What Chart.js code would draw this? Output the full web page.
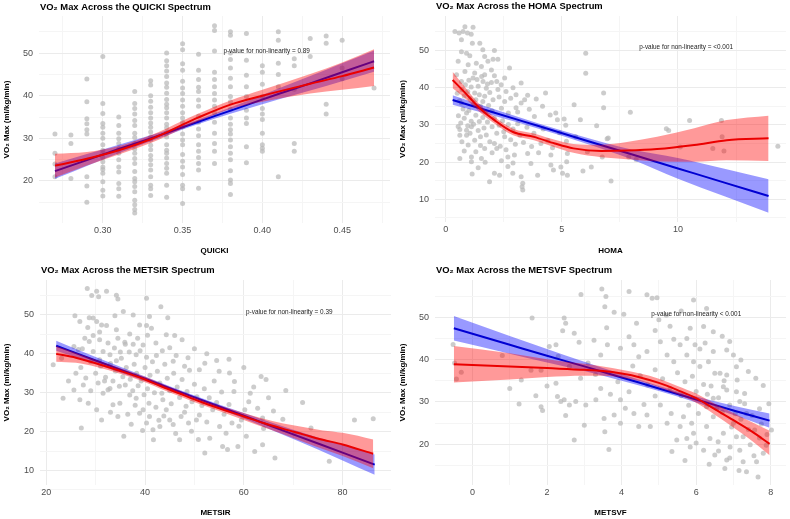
<!DOCTYPE html>
<html><head><meta charset="utf-8">
<script src="https://cdn.jsdelivr.net/npm/chart.js@4/dist/chart.umd.min.js"></script>
<style>
html,body{margin:0;padding:0;background:#fff;}
#wrap{position:relative;width:790px;height:519px;overflow:hidden;}
.p{position:absolute;}
canvas{display:block;}
</style></head><body>
<div id="wrap">
<div class="p" style="left:0;top:0"><canvas id="c1" width="395" height="260"></canvas></div>
<div class="p" style="left:395px;top:0"><canvas id="c2" width="395" height="260"></canvas></div>
<div class="p" style="left:0;top:260px"><canvas id="c3" width="395" height="259"></canvas></div>
<div class="p" style="left:395px;top:260px"><canvas id="c4" width="395" height="259"></canvas></div>
</div>
<script>
// ---------------- DATA ----------------
const yAxisTitle = 'VO\u2082 Max (ml/kg/min)';

// Panel 1: QUICKI (values appear in columns)
const quickiCols = [0.27,0.28,0.29,0.30,0.31,0.32,0.33,0.34,0.35,0.36,0.37,0.38,0.39,0.40,0.41,0.42,0.43,0.44,0.45,0.47];
const quickiColY = [
 [31,26.5,24,21],
 [30.8,28.8,20.6],
 [43.9,38.6,34.6,33.4,32,31,21,18.8,15],
 [49.2,38.2,35.8,33.5,32.6,31.2,30,28.5,27.2,26.5,25.5,24.5,23.3,22.7,21.8,19.8,17.8,16.5],
 [35,33,31.2,29.9,28.8,27.5,26.5,25,23.3,22.1,19.4,18.2,16.4],
 [41,38.2,37,35.7,34.2,33,31.2,30.2,28.8,27.5,26.5,25.3,24.1,22.2,20.6,19.8,18.7,17.5,15.5,14.4,13.3,12.5],
 [43.5,42.5,40,38.7,37.3,36,34.8,33.6,32.6,31.5,30.4,29.6,28.4,27.3,26,25,23.8,22.6,21,19,18.2,16.6],
 [50,48.2,47,45.8,44.5,43,42,40.6,39.1,38,37.2,36,34.8,33.3,32.5,31.3,30.3,28.5,27.2,26.5,25.4,24.1,23,21.8,19,16.2],
 [52.2,50.8,47.5,46,43.4,41.8,40.5,39,37.5,36,34.8,33.7,32.7,31,29.6,28.5,26.2,24.6,23.3,21.5,19,18.2,14.7],
 [49.7,46,43.8,42,41,39,37.5,35.2,33.8,32.2,30.6,28.5,27,25.5,24.1,22.6,18.3],
 [56.4,55.3,50.5,45.5,43.8,42.1,40.5,39,37.5,36,33.8,31.2,28.8,27,24.1],
 [55,54.2,50,48.5,46.5,44.1,42.1,39.8,38.6,36.8,34.8,33.3,32,31,29.6,28,26.5,25,22.4,20.2,19.4,16.8],
 [54.6,48.3,44.8,42.1,39.8,36.6,34.8,33.5,28,24.3],
 [47,45.5,42.7,39.8,37,35.7,34.4,31.2,28.5,27.7,27],
 [55,53,47.6,45,42.1,21],
 [48.7,47,41.5,28.8,27],
 [53.4,49.2],
 [54,52.3,38,35.7],
 [53,46.5,44],
 [41.8]
];
const quickiLinX = [0.27,0.29,0.31,0.33,0.35,0.37,0.39,0.41,0.43,0.45,0.47];
const quickiLin  = [22.3,24.9,27.5,30.0,32.6,35.2,37.8,40.4,42.9,45.5,48.1];
const quickiLinLo= [20.5,23.5,26.5,29.3,32.1,34.6,36.9,39.1,41.2,43.4,45.6];
const quickiLinHi= [24.1,26.3,28.5,30.7,33.1,35.8,38.7,41.7,44.6,47.6,50.6];
const quickiSplX = [0.27,0.29,0.31,0.33,0.34,0.35,0.36,0.38,0.40,0.43,0.45,0.47];
const quickiSpl  = [23.6,25.2,27.2,29.8,31.4,33.2,34.9,37.9,40.0,42.8,44.6,46.6];
const quickiSplLo= [20.8,23.6,26.2,28.9,30.5,32.3,34.0,36.9,38.6,40.5,41.4,42.3];
const quickiSplHi= [26.4,26.8,28.2,30.7,32.3,34.1,35.8,38.9,41.4,45.1,47.8,50.9];

// Panel 2: HOMA
const homaPts = [
 [0.4,55.1],[0.58,54.7],[0.75,55.1],[0.83,56.4],[0.68,52.9],[1.1,54.4],[1.18,56.3],[0.94,54.7],[1.15,52],[1.47,52],
 [1.6,50.2],[0.68,49.7],[0.9,49.3],[1.04,48.6],[1.68,48.4],[2.1,50],[2.25,47.7],[2.04,47.7],[1.82,47.1],[1.32,46.6],
 [0.54,47.1],[0.97,46.2],[1.54,45.7],[2.75,45.3],[1.97,44.8],[0.83,44.4],[1.25,44],[1.68,43.5],[2.1,43.2],[0.47,43.5],
 [1.18,42.6],[1.61,41.7],[1.97,41.4],[2.54,42.6],[2.39,40.8],[3.25,41.3],[0.68,41.7],[1.4,40.4],[1.75,39.9],[2.25,39.5],
 [3.03,38.1],[3.53,38],[1.25,38.6],[1.68,37.7],[2.04,36.8],[2.54,36.3],[3.25,35.9],[3.03,34.6],[4.17,35],[4.74,33.2],
 [5.53,35.4],[6.8,38.6],[6.8,34.6],[6.03,49.3],[6.03,43.9],[5.1,31.6],[5.8,31.4],[7.95,33.4],[10.5,31.2],[11.87,31.2],
 [4.81,31.4],[3.82,32.3],[0.68,35.9],[0.9,33.2],[1.1,31],[0.54,29.6],
 [0.5,38.5],[0.6,36.5],[0.7,39.5],[0.8,37.8],[0.85,40.8],[0.95,39],[1.0,42],[1.05,37.2],[1.1,40.2],[1.2,35.5],
 [1.3,36.8],[1.35,42.2],[1.45,38.1],[1.5,35],[1.55,43],[1.6,36.3],[1.7,33.5],[1.8,41],[1.85,35.2],[1.9,38.7],
 [2.0,33.8],[2.2,41.7],[2.3,37.5],[2.4,34.5],[2.6,39],[2.7,33.2],[2.8,37.2],[2.9,40],[3.1,33.5],[3.4,36.8],
 [3.6,34.2],[3.9,37],[4.3,38.6],[4.5,32.7],
 [0.55,32.5],[0.65,30.5],[0.75,34.3],[0.8,31.8],[0.95,29.8],[1.0,33.9],[1.05,27.8],[1.2,30.2],[1.3,32.6],[1.4,28.5],
 [1.45,30.9],[1.5,26.8],[1.6,32],[1.65,29.2],[1.75,27.3],[1.8,30.8],[1.9,25.5],[2.0,29.5],[2.1,31.8],[2.2,27.8],
 [2.3,29.9],[2.35,24.3],[2.45,31.1],[2.5,28.2],[2.6,23.3],[2.7,30.1],[2.8,26],[2.9,28.9],[3.0,24.8],[3.1,30.3],
 [3.2,27.2],[3.35,25.3],[3.5,29.4],[3.7,24.2],[3.8,27.8],[4.0,22.5],[4.2,28.9],[4.4,25.8],[4.6,23.9],[4.9,27.9],
 [5.2,25.6],[5.6,26.8],[6.1,22.8],[6.5,29.8],[7.0,26.5],
 [0.61,28.8],[0.61,27.2],[0.9,28.6],[0.9,27.2],[1.11,29.5],[1.25,25.9],[0.97,24.6],[0.61,21],[1.11,21.4],[1.11,20.1],
 [1.54,21],[1.4,18.5],[1.14,16.8],[1.89,14.7],[2.1,17],[2.32,16.5],[1.68,23.7],[2.1,25],[2.54,26.8],[2.68,21.4],
 [2.68,18.8],[2.89,17],[2.96,21.9],[3.25,16.1],[3.32,14.3],[3.32,12.5],[3.29,13.4],[3.96,16.5],[3.67,19.6],[3.53,22.3],
 [4.1,25],[4.53,21.9],[4.53,19.2],[4.64,17.9],[4.96,18.7],[5.24,16.5],[5.03,17],[5.21,20.1],[5.24,22.3],[5.17,29.9],
 [5.91,17.6],[6.27,18.7],[6.74,21.4],[6.95,26.3],[7.12,14.9],[7.88,21.4],[8.2,20.7],[9.5,29.0],[9.6,28.5],[10.1,24.1],
 [11.5,23.7],[11.9,26.8],[11.98,23.0],[14.3,24.3],
 [0.8,23],[1.3,22.8],[1.7,20],[2.0,22.5],[2.4,20.4],[2.9,19.8],[1.5,24.5],[0.7,25.5],[2.2,23.7]
];
const homaLinX = [0.3,2,4,6,8,10,12,13.9];
const homaLin  = [36.7,33.5,29.7,25.9,22.1,18.3,14.5,10.9];
const homaLinLo= [35.4,32.6,29.0,25.1,20.8,15.5,10.8,6.4];
const homaLinHi= [38.0,34.4,30.4,26.7,23.4,21.1,18.2,15.4];
const homaSplX = [0.3,0.8,1.5,2.1,2.9,3.8,4.7,5.5,6.7,7.8,9.1,10.7,12.1,13.9];
const homaSpl  = [42.1,38.9,34.3,31.3,28.1,26.8,25.0,23.7,23.0,23.1,23.5,24.6,25.9,26.4];
const homaSplLo= [39.9,37.4,33.3,30.4,27.2,25.9,24.0,22.5,21.3,20.8,20.2,20.1,20.5,20.3];
const homaSplHi= [44.3,40.4,35.3,32.2,29.0,27.7,26.0,24.9,24.7,25.4,26.8,29.1,31.3,32.5];

// Panel 3: METSIR
const metsirPts = [
 [28.3,56.8],[30.2,56.1],[32.2,56.1],[29.2,55],[30.6,54.7],[34.2,55.1],[34.5,54.1],[40.3,54.3],[43.2,52.1],[25.8,49.8],
 [28.7,49.3],[29.5,49.2],[31.2,47.4],[35.6,50.9],[33.9,49.8],[37.6,50],[40.9,49.6],[44.6,49.3],[32.2,47.3],[30.2,48.3],
 [28.4,46.8],[26.8,48.3],[38.9,47.4],[40.3,47.3],[41.3,46.6],[36.9,45.1],[34.2,46.2],[30.8,45.6],[44.3,44.9],[46,44.7],
 [29.5,44.7],[27.8,44],[28.7,43.2],[30.8,43.6],[32.5,42.8],[34.5,44],[35.9,43],[37.6,42.5],[39.6,42.3],[42.2,42.8],
 [43.5,40.8],[27.3,41.3],[25.6,41.9],[26.5,41.1],[29.5,40.6],[31.5,40.6],[32.9,39.8],[30.8,38.5],[34.2,38.2],[38.2,39.8],
 [40.3,39.1],[42.3,39.6],[45.7,38.1],[46.3,39.6],[48,36.8],[51,35.9],[52.1,37.6],[55,35.5],[57.1,35.1],[63.5,34.2],
 [64.5,33.4],[58.1,32.9],[21.4,37.2],[23.1,38.9],
 [23.4,28.6],[25.6,30.7],[26.8,28.2],[28.5,27.3],[27.1,20.9],[30.2,25.6],[31.2,23],[31.5,29.9],[32.9,31.1],[33.5,26.9],
 [34.9,27.3],[35.7,18.8],[34.5,23.9],[36.9,29.4],[38.2,28.6],[38.9,24.7],[39.6,25.6],[40.3,22.2],[40.9,23.9],[41.6,20.5],
 [41.7,17.9],[43,21.3],[43.6,28.2],[44.3,25.6],[45,23],[45.7,21.8],[47,17.9],[47.3,23.9],[48.3,26.5],[49.4,20.1],
 [50.4,23],[51,24.3],[52.1,14.5],[53.1,18.3],[53.7,25.6],[55.1,21.3],[55.7,16.2],[56.7,15.4],[56.4,19.6],[57.6,22.2],
 [58.8,16.2],[59.5,23],[60.5,18.8],[60.2,25.6],[61.3,29.9],[62.2,14.9],[62.8,26],[63.8,16.6],[63.8,23.5],[66.3,13.2],
 [67.9,23.2],[70.2,19.6],[71.9,27.5],[73.6,20.9],[77.3,12.4],[82.4,23],[86.2,23.3],
 [27,36.5],[28,33.8],[29,38],[30,35],[30.5,32.5],[31,36.8],[32,34],[32.5,30.8],[33,37.5],[33.5,33],
 [34,35.6],[34.8,31.7],[35.2,38.9],[35.5,34.1],[36,32],[36.2,36.5],[36.8,40.5],[37,33.5],[37.5,30.5],[37.8,37.3],
 [38.3,35],[38.6,31.8],[39,40.8],[39.2,33],[39.8,29.5],[40,36.5],[40.5,31],[40.8,27.3],[41,34.5],[41.5,38],
 [41.9,30],[42.2,26.3],[42.5,35.5],[43,32.5],[43.4,29.9],[43.8,24],[44,37.3],[44.5,33.7],[45,30.5],[45.3,27.2],
 [45.8,35],[46.5,31.5],[47,28.8],[47.5,33.4],[48,25],[48.5,30.3],[49,35.8],[49.5,27.7],[50,32.2],[50.5,29],
 [51.5,26.7],[52,31],[52.5,22.5],[53,28.7],[54,33],[54.5,27.5],[55.5,30.2],[56,24.5],[57,27],[58,30.3],
 [59,21.4],[61,27.7],[62,31.5],[64,20.8],[65,28.7],[66,25.3],[68.5,30.6],[36.5,24.5],[37.2,21.9],[38,26.8],
 [39.5,20.3],[42.8,22.9],[46.2,19.5],[48.8,22.2],[50.8,18],[33,25],[29,30.5],[27.5,32],[24.5,33],[26,35],
 [31.8,33],[33.8,41.5],[35,40.5],[36,42.5],[38.5,44],[40.5,44.8],[45,41.6],[47.5,43.6],[50,41.3],[52.5,40],
 [54.5,38.3],[57,38.6],[60,36.5],[48.7,39]
];
const metsirLinX = [22,30,40,50,60,70,80,86.5];
const metsirLin  = [42.1,38.3,33.6,28.8,24.1,19.3,14.6,11.5];
const metsirLinLo= [40.8,37.4,33.0,28.3,23.4,18.1,12.6,8.9];
const metsirLinHi= [43.4,39.2,34.2,29.3,24.8,20.5,16.6,14.1];
const metsirSplX = [22,26,30,35,40,43,47,51,55,60,64,68,72,76,80,86.2];
const metsirSpl  = [40.0,39.0,37.6,35.6,33.4,31.8,29.8,27.8,26.0,23.9,22.2,20.7,19.3,17.9,16.7,14.3];
const metsirSplLo= [38.0,37.7,36.7,34.9,32.7,31.1,29.1,27.1,25.3,23.0,21.1,19.3,17.4,15.5,13.7,10.6];
const metsirSplHi= [42.0,40.3,38.5,36.3,34.1,32.5,30.5,28.5,26.7,24.8,23.3,22.1,21.2,20.3,19.7,18.0];

// Panel 4: METSVF
const metsvfPts = [
 [1.6,49.8],[2.46,49.8],[2.5,48.6],[2.91,55.4],[3.47,56.7],[3.58,54.9],[3.8,51.2],[4.2,56.1],[4.06,50.7],[3.55,52.5],
 [4.68,55.3],[4.82,54.5],[4.95,54.6],[5,49.4],[5.2,50.5],[5.93,54.1],[6.28,52.1],[6.2,47.8],[6.24,43.9],[5.84,47.4],
 [5.75,45],[5.97,43.5],[6.46,46.6],[6.46,41.9],[2.73,46.2],[2.42,46.8],[2.24,43.5],[2.06,43.1],[2.86,44.1],[3.26,44.6],
 [3.44,41.1],[3.62,43.5],[3.97,42.7],[4.2,45.4],[4.33,43.5],[4.46,40.7],[4.68,41.9],[5.04,44.2],[5.22,41.1],[5.4,39.5],
 [5.57,43.5],[5.75,41.1],[5.93,39.5],[6.33,39.5],[6.82,42.3],[7,41.1],[7.08,38.3],[6.5,36.8],[6.64,36.8],[6.82,36.4],
 [1.57,37.5],[1.31,35.2],[1.84,37.5],[-0.52,43.6],[-0.48,39.2],[-0.3,37],[-0.43,35.4],
 [1.84,28.9],[1.88,28],[2.24,34.4],[2.28,31.3],[2.37,30.1],[2.46,30.5],[2.6,29.3],[2.73,21],[2.77,30.1],[3.04,29.3],
 [3.31,30.5],[3.53,26.1],[3.55,23],[3.66,18.8],[3.8,26.9],[3.97,25],[3.97,30.5],[4.1,28.5],[4.33,27.3],[4.46,24.2],
 [4.68,26.9],[4.77,24.2],[5.04,29.3],[5.22,25],[5.33,27.3],[5.35,18.3],[5.48,21],[5.57,24.2],[5.66,26.5],[5.75,21.4],
 [5.84,19.4],[5.88,25],[5.93,22.6],[6.06,27.3],[6.2,18.6],[6.28,24.2],[6.37,21.4],[6.46,26.5],[6.5,17.5],[6.59,20.6],
 [6.73,22.6],[6.77,14.3],[6.82,16.3],[6.91,19.4],[7,25],[7.08,21.8],[7.17,18.6],[7.26,15.9],[7.35,27.3],[7.35,13.5],
 [7.62,15.9],[7.66,12.3],[7.57,23.4],[7.8,17.9],[8.02,23.4],[7.88,19.8],[7.26,21.8],[6.73,33.6],[6.82,32.8],[7.08,32.4],
 [7.17,30.1],[7.3,32],[6.46,30.9],[6.28,28.9],[3.44,33.2],
 [4.3,38.5],[4.5,36.2],[4.7,34],[4.9,37.6],[5.1,35.5],[5.3,33.2],[5.5,36.9],[5.6,31.5],[5.7,34.8],[5.8,29.2],
 [5.9,36.1],[6.0,32.5],[6.1,38.4],[6.2,34.1],[6.3,31.8],[6.4,33.8],[6.55,28.5],[6.6,31],[6.7,27.6],[6.75,35],
 [6.9,29.3],[6.95,24.1],[7.05,27.2],[7.1,35.2],[7.2,25.9],[7.3,29.6],[7.4,23.5],[7.45,19.9],[7.5,26.8],[7.55,17.3],
 [7.7,21.5],[7.75,24.8],[7.9,22.3],[6.0,20.3],[5.7,16.2],[6.35,15.3],[6.6,18.4],[6.9,16.8],[7.15,13.8],[4.9,31.4],
 [4.6,29.4],[4.2,32.4],[3.9,34.8],[3.7,31.8],[3.3,36.5],[3.1,39.2],[2.9,35.6],[2.6,38.4],[2.3,40.8],[2.0,33.8],
 [1.7,31.5],[2.5,26.8],[3.0,24.5],[1.25,29.5],[0.8,41],[1.0,33.2],[3.6,47.5],[4.4,48.6],[4.9,46.9],[5.3,47.9],
 [5.6,51.5],[6.7,45.5],[6.9,44.3],[7.2,39.9],[7.4,37.2],[7.6,35.6],[7.8,33.9],[7.95,29.6],[7.7,28.4],[6.1,42.5],
 [5.4,44.8]
];
const metsvfLinX = [-0.5,1,2,3,4,5,6,7,7.97];
const metsvfLin  = [47.4,43.5,40.9,38.4,35.8,33.2,30.6,28.0,25.6];
const metsvfLinLo= [44.5,41.4,39.3,37.3,35.0,32.6,29.9,26.9,23.9];
const metsvfLinHi= [50.3,45.6,42.5,39.5,36.6,33.8,31.3,29.1,27.3];
const metsvfSplX = [-0.5,1,2,3,3.5,4,4.5,5,5.5,6,6.5,7,7.5,7.97];
const metsvfSpl  = [38.9,38.4,38.0,37.6,37.3,36.7,35.8,34.5,32.8,30.9,28.3,25.7,23.0,20.1];
const metsvfSplLo= [34.6,35.3,35.9,36.2,36.2,35.8,34.9,33.5,31.8,29.8,27.0,24.0,20.8,17.4];
const metsvfSplHi= [43.2,41.5,40.1,39.0,38.4,37.6,36.7,35.5,33.8,32.0,29.6,27.4,25.2,23.2];

// Tick labels
const quickiXTicks = [0.30,0.35,0.40,0.45], quickiXLabels = ['0.30','0.35','0.40','0.45'], quickiXMinor = [0.275,0.325,0.375,0.425,0.475];
const homaXTicks = [0,5,10], homaXLabels = ['0','5','10'], homaXMinor = [2.5,7.5,12.5];
const metsirXTicks = [20,40,60,80], metsirXLabels = ['20','40','60','80'], metsirXMinor = [30,50,70];
const metsvfXTicks = [0,2,4,6,8], metsvfXLabels = ['0','2','4','6','8'], metsvfXMinor = [1,3,5,7];
const yTicksA = [20,30,40,50], yLabelsA = ['20','30','40','50'], yMinorA = [15,25,35,45,55];
const yTicksB = [10,20,30,40,50], yLabelsB = ['10','20','30','40','50'], yMinorB = [5,15,25,35,45,55];

// ---------------- RENDER ----------------
const FONT = '"Liberation Sans", Arial, sans-serif';
function pairs(xs, ys){ return xs.map((x,i)=>({x:x, y:ys[i]})); }
function near(a,b){ return Math.abs(a-b) < 1e-7; }

function makePanel(id, c){
  const majX = c.xTicks, majY = c.yTicks;
  const labelFor = (majors, labels) => (v) => { const i = majors.findIndex(m=>near(m,v)); return i>=0 ? labels[i] : ''; };
  const gridCol = (majors) => (ctx) => (ctx.tick && majors.some(m=>near(m,ctx.tick.value))) ? '#ebebeb' : '#f5f5f5';
  const H = document.getElementById(id).height;
  const titlePlugin = {
    id: 'ttl'+id,
    afterDraw(chart){
      const ctx = chart.ctx, a = chart.chartArea;
      ctx.save();
      ctx.fillStyle = '#000';
      ctx.font = 'bold 9.4px ' + FONT;
      ctx.textAlign = 'left'; ctx.textBaseline = 'middle';
      ctx.fillText(c.title, a.left + 1, a.top - c.titleGap);
      const xs = chart.scales.x, ys = chart.scales.y;
      ctx.font = '6.4px ' + FONT;
      ctx.fillStyle = '#222';
      ctx.textAlign = 'center';
      ctx.fillText(c.ann, xs.getPixelForValue(c.annX), ys.getPixelForValue(c.annY));
      ctx.restore();
    }
  };
  const line = (xs, ys, col, order) => ({type:'line', data: pairs(xs, ys), borderColor: col, borderWidth: 2,
     pointRadius: 0, fill: false, tension: 0, cubicInterpolationMode: 'monotone', order: order});
  const band = (xs, lo, hi, col, order) => [
     {type:'line', data: pairs(xs, lo), borderWidth: 0, borderColor: 'rgba(0,0,0,0)', pointRadius: 0, fill: false, cubicInterpolationMode: 'monotone', order: order},
     {type:'line', data: pairs(xs, hi), borderWidth: 0, borderColor: 'rgba(0,0,0,0)', pointRadius: 0, fill: '-1', backgroundColor: col, cubicInterpolationMode: 'monotone', order: order}
  ];
  const datasets = [
    {type:'scatter', data: c.pts.map(p=>({x:p[0], y:p[1]})), pointRadius: 2.5, pointBackgroundColor: 'rgba(185,185,185,0.72)',
      pointBorderWidth: 0, borderWidth: 0, order: 10},
    ...band(c.linX, c.linLo, c.linHi, 'rgba(0,0,255,0.4)', 8),
    line(c.linX, c.lin, 'rgb(0,0,210)', 6),
    ...band(c.splX, c.splLo, c.splHi, 'rgba(255,0,0,0.4)', 4),
    line(c.splX, c.spl, 'rgb(235,0,0)', 2)
  ];
  new Chart(document.getElementById(id), {
    type: 'scatter',
    data: { datasets },
    options: {
      responsive: false, animation: false, events: [],
      layout: { padding: { left: 0, right: c.padR, top: c.top, bottom: 0 } },
      plugins: { legend: { display: false }, tooltip: { enabled: false }, title: { display: false } },
      scales: {
        x: {
          type: 'linear', min: c.xMin, max: c.xMax,
          afterBuildTicks: (s) => { s.ticks = majX.concat(c.xMinor).sort((a,b)=>a-b).map(v=>({value:v})); },
          afterFit: (s) => { s.height = H - c.bottom; },
          ticks: { autoSkip: false, maxRotation: 0, padding: 2, color: '#4d4d4d', font: { family: FONT, size: 9 },
                   callback: labelFor(majX, c.xLabels) },
          grid: { color: gridCol(majX), drawTicks: false, lineWidth: 1 },
          border: { display: false },
          title: { display: true, text: c.xTitle, color: '#000', font: { family: FONT, size: 8, weight: 'bold' }, padding: { top: 0, bottom: c.xTitlePad } }
        },
        y: {
          type: 'linear', min: c.yMin, max: c.yMax,
          afterBuildTicks: (s) => { s.ticks = majY.concat(c.yMinor).sort((a,b)=>a-b).map(v=>({value:v})); },
          afterFit: (s) => { s.width = c.left; },
          ticks: { autoSkip: false, padding: 6, color: '#4d4d4d', font: { family: FONT, size: 9 },
                   callback: labelFor(majY, c.yLabels) },
          grid: { color: gridCol(majY), drawTicks: false, lineWidth: 1 },
          border: { display: false },
          title: { display: true, text: yAxisTitle, color: '#000', font: { family: FONT, size: 8, weight: 'bold' }, padding: { top: c.yTitlePad, bottom: 0 } }
        }
      }
    },
    plugins: [titlePlugin]
  });
}

const quickiPts = [];
quickiCols.forEach((x,i)=>quickiColY[i].forEach(y=>quickiPts.push([x,y])));

makePanel('c1', { title: 'VO\u2082 Max Across the QUICKI Spectrum', xTitle: 'QUICKI', titleGap: 9,
  pts: quickiPts, linX: quickiLinX, lin: quickiLin, linLo: quickiLinLo, linHi: quickiLinHi,
  splX: quickiSplX, spl: quickiSpl, splLo: quickiSplLo, splHi: quickiSplHi,
  ann: 'p-value for non-linearity = 0.89', annX: 0.4027, annY: 50.35,
  xMin: 0.26, xMax: 0.48, yMin: 10.14, yMax: 58.7,
  xTicks: quickiXTicks, xLabels: quickiXLabels, xMinor: quickiXMinor,
  yTicks: yTicksA, yLabels: yLabelsA, yMinor: yMinorA,
  left: 39, padR: 5, top: 16, bottom: 223, xTitlePad: 4, yTitlePad: 2 });

makePanel('c2', { title: 'VO\u2082 Max Across the HOMA Spectrum', xTitle: 'HOMA', titleGap: 10,
  pts: homaPts, linX: homaLinX, lin: homaLin, linLo: homaLinLo, linHi: homaLinHi,
  splX: homaSplX, spl: homaSpl, splLo: homaSplLo, splHi: homaSplHi,
  ann: 'p-value for non-linearity = <0.001', annX: 10.35, annY: 50.8,
  xMin: -0.458, xMax: 14.65, yMin: 3.9, yMax: 59.3,
  xTicks: homaXTicks, xLabels: homaXLabels, xMinor: homaXMinor,
  yTicks: yTicksB, yLabels: yLabelsB, yMinor: yMinorB,
  left: 40, padR: 2, top: 16, bottom: 222, xTitlePad: 4, yTitlePad: 3 });

makePanel('c3', { title: 'VO\u2082 Max Across the METSIR Spectrum', xTitle: 'METSIR', titleGap: 10,
  pts: metsirPts, linX: metsirLinX, lin: metsirLin, linLo: metsirLinLo, linHi: metsirLinHi,
  splX: metsirSplX, spl: metsirSpl, splLo: metsirSplLo, splHi: metsirSplHi,
  ann: 'p-value for non-linearity = 0.39', annX: 69.2, annY: 50.7,
  xMin: 18.73, xMax: 89.8, yMin: 6.27, yMax: 59.0,
  xTicks: metsirXTicks, xLabels: metsirXLabels, xMinor: metsirXMinor,
  yTicks: yTicksB, yLabels: yLabelsB, yMinor: yMinorB,
  left: 40, padR: 3, top: 20, bottom: 225, xTitlePad: 1, yTitlePad: 2 });

makePanel('c4', { title: 'VO\u2082 Max Across the METSVF Spectrum', xTitle: 'METSVF', titleGap: 10,
  pts: metsvfPts, linX: metsvfLinX, lin: metsvfLin, linLo: metsvfLinLo, linHi: metsvfLinHi,
  splX: metsvfSplX, spl: metsvfSpl, splLo: metsvfSplLo, splHi: metsvfSplHi,
  ann: 'p-value for non-linearity < 0.001', annX: 6.0, annY: 50.7,
  xMin: -1.005, xMax: 8.41, yMin: 10.4, yMax: 58.8,
  xTicks: metsvfXTicks, xLabels: metsvfXLabels, xMinor: metsvfXMinor,
  yTicks: yTicksA, yLabels: yLabelsA, yMinor: yMinorA,
  left: 40, padR: 2, top: 20, bottom: 225, xTitlePad: 1, yTitlePad: 3 });
</script>
</body></html>
